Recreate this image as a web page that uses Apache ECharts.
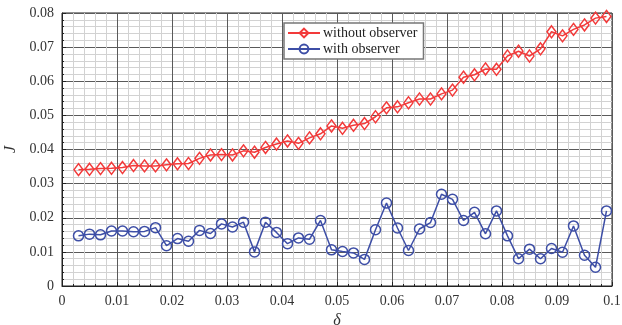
<!DOCTYPE html>
<html>
<head>
<meta charset="utf-8">
<script src="https://cdn.jsdelivr.net/npm/echarts@6/dist/echarts.min.js"></script>
<style>
  html, body { margin: 0; padding: 0; background: #fff; }
  #chart { width: 622px; height: 325px; }
</style>
</head>
<body>
<div id="chart"></div>
<script>
// δ sample points: 0.003, 0.005, ..., 0.099
const deltas = [
  0.003, 0.005, 0.007, 0.009, 0.011, 0.013, 0.015, 0.017, 0.019, 0.021,
  0.023, 0.025, 0.027, 0.029, 0.031, 0.033, 0.035, 0.037, 0.039, 0.041,
  0.043, 0.045, 0.047, 0.049, 0.051, 0.053, 0.055, 0.057, 0.059, 0.061,
  0.063, 0.065, 0.067, 0.069, 0.071, 0.073, 0.075, 0.077, 0.079, 0.081,
  0.083, 0.085, 0.087, 0.089, 0.091, 0.093, 0.095, 0.097, 0.099
];

// cost J without the observer
const withoutObserver = [
  0.0341, 0.0342, 0.0344, 0.0345, 0.0347, 0.0353, 0.0352, 0.0352, 0.0355, 0.0358,
  0.0359, 0.0374, 0.0384, 0.0385, 0.0384, 0.0396, 0.0392, 0.0406, 0.0416, 0.0425,
  0.0418, 0.0434, 0.0446, 0.0469, 0.0462, 0.0471, 0.0476, 0.0496, 0.0522, 0.0525,
  0.0537, 0.0548, 0.0548, 0.0563, 0.0574, 0.0612, 0.0619, 0.0636, 0.0635, 0.0674,
  0.0688, 0.0674, 0.0695, 0.0745, 0.0733, 0.0752, 0.0765, 0.0785, 0.0790
];

// cost J with the observer
const withObserver = [
  0.0147, 0.0152, 0.0150, 0.0161, 0.0161, 0.0159, 0.0160, 0.0171, 0.0118, 0.0139,
  0.0131, 0.0163, 0.0154, 0.0182, 0.0173, 0.0187, 0.0100, 0.0187, 0.0157, 0.0124,
  0.0141, 0.0137, 0.0192, 0.0106, 0.0101, 0.0097, 0.0078, 0.0165, 0.0243, 0.0170,
  0.0104, 0.0167, 0.0186, 0.0269, 0.0254, 0.0192, 0.0216, 0.0153, 0.0220, 0.0147,
  0.0080, 0.0108, 0.0080, 0.0110, 0.0099, 0.0176, 0.0090, 0.0055, 0.0220
];

const seriesNames = ['without observer', 'with observer'];
const xTickLabels = ['0', '0.01', '0.02', '0.03', '0.04', '0.05', '0.06', '0.07', '0.08', '0.09', '0.1'];
const yTickLabels = ['0', '0.01', '0.02', '0.03', '0.04', '0.05', '0.06', '0.07', '0.08'];

const RED = '#f23a3a';
const BLUE = '#3d4ea6';
const FONT = '"Liberation Serif", "DejaVu Serif", serif';

const pairs = (ys) => deltas.map((x, i) => [x, ys[i]]);
const labelAt = (labels, step) => (v) => labels[Math.round(v / step)] ?? '';

function axisCommon(labels, step, margin) {
  return {
    type: 'value',
    interval: step,
    axisLine: { show: true, onZero: false, lineStyle: { color: '#222', width: 1 } },
    axisTick: { show: true, inside: true, length: 4, lineStyle: { color: '#222' } },
    minorTick: { show: true, splitNumber: 5, length: 2, lineStyle: { color: '#222' } },
    splitLine: { show: true, lineStyle: { color: '#5a5a5a', width: 1 } },
    minorSplitLine: { show: true, lineStyle: { color: '#d2d2d2', width: 1 } },
    axisLabel: {
      color: '#333', fontFamily: FONT, fontSize: 14, margin: margin,
      formatter: labelAt(labels, step)
    }
  };
}

const chart = echarts.init(document.getElementById('chart'), null, { renderer: 'canvas' });

chart.setOption({
  animation: false,
  backgroundColor: '#fff',
  grid: {
    left: 62, right: 10, top: 13, bottom: 39,
    outerBoundsMode: 'none',
    containLabel: false,
    show: true, borderColor: '#222', borderWidth: 1, backgroundColor: 'transparent'
  },
  xAxis: Object.assign(axisCommon(xTickLabels, 0.01, 8), {
    min: 0, max: 0.1,
    name: 'δ', nameLocation: 'middle', nameGap: 24,
    nameTextStyle: { fontFamily: FONT, fontStyle: 'italic', fontSize: 16, color: '#333' }
  }),
  yAxis: Object.assign(axisCommon(yTickLabels, 0.01, 8), {
    min: 0, max: 0.08,
    name: 'J', nameLocation: 'middle', nameGap: 40, nameRotate: 90,
    nameTextStyle: { fontFamily: FONT, fontStyle: 'italic', fontSize: 16, color: '#333' }
  }),
  legend: {
    left: 284, top: 23, width: 143,
    orient: 'vertical',
    itemGap: 2, itemWidth: 32, itemHeight: 11,
    padding: [3, 6, 3, 3],
    backgroundColor: '#fff',
    borderColor: '#777', borderWidth: 1.5, borderRadius: 0,
    textStyle: { fontFamily: FONT, fontSize: 14, color: '#222', padding: [0, 0, 0, -2] },
    data: seriesNames
  },
  series: [
    {
      name: seriesNames[0],
      type: 'line',
      data: pairs(withoutObserver),
      symbol: 'diamond',
      symbolSize: [9, 12],
      lineStyle: { color: RED, width: 1.5 },
      itemStyle: { color: 'rgba(255,255,255,0)', borderColor: RED, borderWidth: 1.5 },
      z: 3
    },
    {
      name: seriesNames[1],
      type: 'line',
      data: pairs(withObserver),
      symbol: 'circle',
      symbolSize: 10,
      lineStyle: { color: BLUE, width: 1.5 },
      itemStyle: { color: 'rgba(255,255,255,0)', borderColor: BLUE, borderWidth: 1.5 },
      z: 3
    }
  ]
});
</script>
</body>
</html>
